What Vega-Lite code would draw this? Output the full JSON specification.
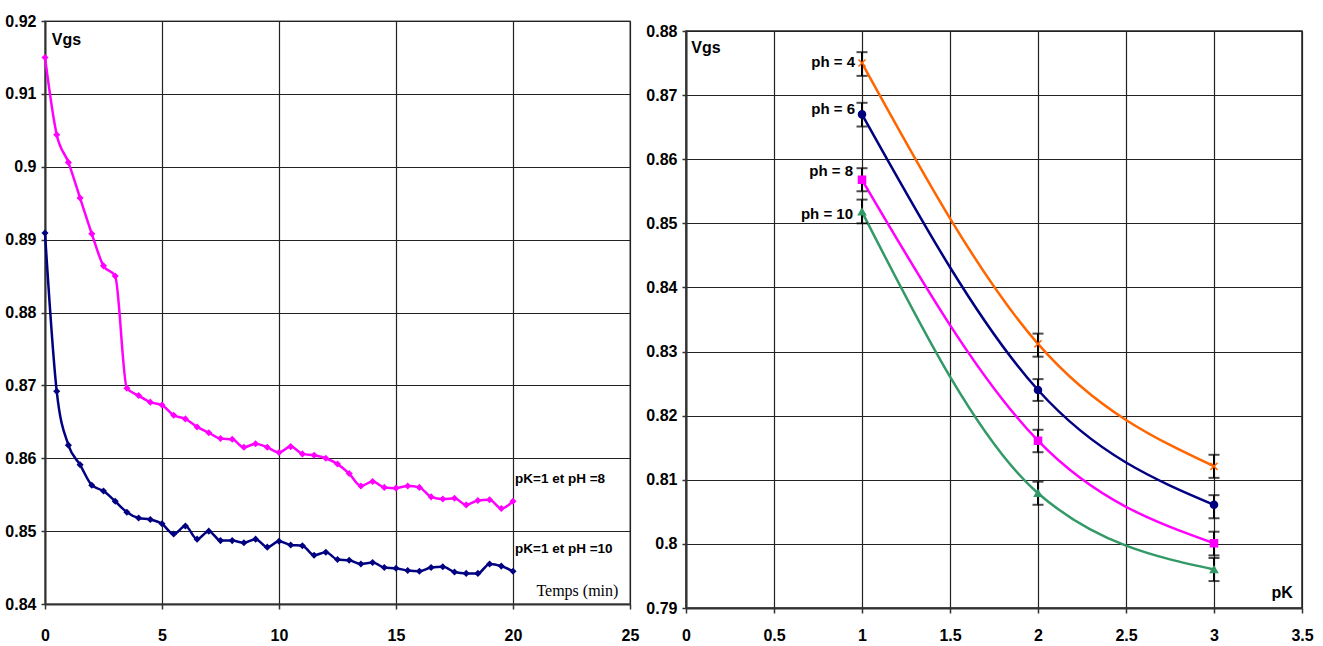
{
  "$schema": "https://vega.github.io/schema/vega-lite/v6.json",
  "background": "white",
  "padding": {"left": 4, "top": 12, "right": 5, "bottom": 0},
  "spacing": 5,
  "align": "none",
  "resolve": {"scale": {"color": "independent", "stroke": "independent", "shape": "independent"}},
  "datasets": {
    "left": [
      {"t": 0, "v": 0.915, "s": "pK=1 et pH =8"},
      {"t": 0.5, "v": 0.9044, "s": "pK=1 et pH =8"},
      {"t": 1, "v": 0.9006, "s": "pK=1 et pH =8"},
      {"t": 1.5, "v": 0.8957, "s": "pK=1 et pH =8"},
      {"t": 2, "v": 0.8908, "s": "pK=1 et pH =8"},
      {"t": 2.5, "v": 0.8864, "s": "pK=1 et pH =8"},
      {"t": 3, "v": 0.885, "s": "pK=1 et pH =8"},
      {"t": 3.5, "v": 0.8696, "s": "pK=1 et pH =8"},
      {"t": 4, "v": 0.8686, "s": "pK=1 et pH =8"},
      {"t": 4.5, "v": 0.8677, "s": "pK=1 et pH =8"},
      {"t": 5, "v": 0.8673, "s": "pK=1 et pH =8"},
      {"t": 5.5, "v": 0.8659, "s": "pK=1 et pH =8"},
      {"t": 6, "v": 0.8654, "s": "pK=1 et pH =8"},
      {"t": 6.5, "v": 0.8643, "s": "pK=1 et pH =8"},
      {"t": 7, "v": 0.8635, "s": "pK=1 et pH =8"},
      {"t": 7.5, "v": 0.8627, "s": "pK=1 et pH =8"},
      {"t": 8, "v": 0.8626, "s": "pK=1 et pH =8"},
      {"t": 8.5, "v": 0.8615, "s": "pK=1 et pH =8"},
      {"t": 9, "v": 0.862, "s": "pK=1 et pH =8"},
      {"t": 9.5, "v": 0.8615, "s": "pK=1 et pH =8"},
      {"t": 10, "v": 0.8608, "s": "pK=1 et pH =8"},
      {"t": 10.5, "v": 0.8616, "s": "pK=1 et pH =8"},
      {"t": 11, "v": 0.8606, "s": "pK=1 et pH =8"},
      {"t": 11.5, "v": 0.8604, "s": "pK=1 et pH =8"},
      {"t": 12, "v": 0.86, "s": "pK=1 et pH =8"},
      {"t": 12.5, "v": 0.8592, "s": "pK=1 et pH =8"},
      {"t": 13, "v": 0.8579, "s": "pK=1 et pH =8"},
      {"t": 13.5, "v": 0.8562, "s": "pK=1 et pH =8"},
      {"t": 14, "v": 0.8568, "s": "pK=1 et pH =8"},
      {"t": 14.5, "v": 0.856, "s": "pK=1 et pH =8"},
      {"t": 15, "v": 0.8559, "s": "pK=1 et pH =8"},
      {"t": 15.5, "v": 0.8562, "s": "pK=1 et pH =8"},
      {"t": 16, "v": 0.856, "s": "pK=1 et pH =8"},
      {"t": 16.5, "v": 0.8547, "s": "pK=1 et pH =8"},
      {"t": 17, "v": 0.8544, "s": "pK=1 et pH =8"},
      {"t": 17.5, "v": 0.8545, "s": "pK=1 et pH =8"},
      {"t": 18, "v": 0.8536, "s": "pK=1 et pH =8"},
      {"t": 18.5, "v": 0.8542, "s": "pK=1 et pH =8"},
      {"t": 19, "v": 0.8543, "s": "pK=1 et pH =8"},
      {"t": 19.5, "v": 0.8531, "s": "pK=1 et pH =8"},
      {"t": 20, "v": 0.8541, "s": "pK=1 et pH =8"},
      {"t": 0, "v": 0.8909, "s": "pK=1 et pH =10"},
      {"t": 0.5, "v": 0.8692, "s": "pK=1 et pH =10"},
      {"t": 1, "v": 0.8618, "s": "pK=1 et pH =10"},
      {"t": 1.5, "v": 0.8591, "s": "pK=1 et pH =10"},
      {"t": 2, "v": 0.8563, "s": "pK=1 et pH =10"},
      {"t": 2.5, "v": 0.8555, "s": "pK=1 et pH =10"},
      {"t": 3, "v": 0.8541, "s": "pK=1 et pH =10"},
      {"t": 3.5, "v": 0.8526, "s": "pK=1 et pH =10"},
      {"t": 4, "v": 0.8518, "s": "pK=1 et pH =10"},
      {"t": 4.5, "v": 0.8516, "s": "pK=1 et pH =10"},
      {"t": 5, "v": 0.851, "s": "pK=1 et pH =10"},
      {"t": 5.5, "v": 0.8496, "s": "pK=1 et pH =10"},
      {"t": 6, "v": 0.8507, "s": "pK=1 et pH =10"},
      {"t": 6.5, "v": 0.8489, "s": "pK=1 et pH =10"},
      {"t": 7, "v": 0.85, "s": "pK=1 et pH =10"},
      {"t": 7.5, "v": 0.8487, "s": "pK=1 et pH =10"},
      {"t": 8, "v": 0.8487, "s": "pK=1 et pH =10"},
      {"t": 8.5, "v": 0.8484, "s": "pK=1 et pH =10"},
      {"t": 9, "v": 0.8489, "s": "pK=1 et pH =10"},
      {"t": 9.5, "v": 0.8478, "s": "pK=1 et pH =10"},
      {"t": 10, "v": 0.8486, "s": "pK=1 et pH =10"},
      {"t": 10.5, "v": 0.8481, "s": "pK=1 et pH =10"},
      {"t": 11, "v": 0.848, "s": "pK=1 et pH =10"},
      {"t": 11.5, "v": 0.8467, "s": "pK=1 et pH =10"},
      {"t": 12, "v": 0.8471, "s": "pK=1 et pH =10"},
      {"t": 12.5, "v": 0.8461, "s": "pK=1 et pH =10"},
      {"t": 13, "v": 0.846, "s": "pK=1 et pH =10"},
      {"t": 13.5, "v": 0.8455, "s": "pK=1 et pH =10"},
      {"t": 14, "v": 0.8457, "s": "pK=1 et pH =10"},
      {"t": 14.5, "v": 0.845, "s": "pK=1 et pH =10"},
      {"t": 15, "v": 0.8449, "s": "pK=1 et pH =10"},
      {"t": 15.5, "v": 0.8446, "s": "pK=1 et pH =10"},
      {"t": 16, "v": 0.8445, "s": "pK=1 et pH =10"},
      {"t": 16.5, "v": 0.845, "s": "pK=1 et pH =10"},
      {"t": 17, "v": 0.8451, "s": "pK=1 et pH =10"},
      {"t": 17.5, "v": 0.8444, "s": "pK=1 et pH =10"},
      {"t": 18, "v": 0.8442, "s": "pK=1 et pH =10"},
      {"t": 18.5, "v": 0.8442, "s": "pK=1 et pH =10"},
      {"t": 19, "v": 0.8455, "s": "pK=1 et pH =10"},
      {"t": 19.5, "v": 0.8452, "s": "pK=1 et pH =10"},
      {"t": 20, "v": 0.8445, "s": "pK=1 et pH =10"}
    ],
    "right": [
      {"pK": 1, "v": 0.875, "lo": 0.873, "hi": 0.8767, "ph": "ph = 4"},
      {"pK": 2, "v": 0.8312, "lo": 0.8292, "hi": 0.8328, "ph": "ph = 4"},
      {"pK": 3, "v": 0.8121, "lo": 0.8103, "hi": 0.8139, "ph": "ph = 4"},
      {"pK": 1, "v": 0.867, "lo": 0.8651, "hi": 0.8688, "ph": "ph = 6"},
      {"pK": 2, "v": 0.824, "lo": 0.8223, "hi": 0.8257, "ph": "ph = 6"},
      {"pK": 3, "v": 0.8061, "lo": 0.804, "hi": 0.8076, "ph": "ph = 6"},
      {"pK": 1, "v": 0.8568, "lo": 0.855, "hi": 0.8586, "ph": "ph = 8"},
      {"pK": 2, "v": 0.8161, "lo": 0.8143, "hi": 0.8178, "ph": "ph = 8"},
      {"pK": 3, "v": 0.8001, "lo": 0.7982, "hi": 0.8019, "ph": "ph = 8"},
      {"pK": 1, "v": 0.8518, "lo": 0.85, "hi": 0.8537, "ph": "ph = 10"},
      {"pK": 2, "v": 0.8079, "lo": 0.8061, "hi": 0.8097, "ph": "ph = 10"},
      {"pK": 3, "v": 0.796, "lo": 0.7942, "hi": 0.7978, "ph": "ph = 10"}
    ]
  },
  "hconcat": [
    {
      "width": 585,
      "height": 583,
      "view": {"stroke": "#888", "strokeWidth": 1.5},
      "layer": [
        {
          "data": {"name": "left"},
          "mark": {"type": "line", "interpolate": "monotone", "strokeWidth": 2.5},
          "encoding": {
            "x": {"field": "t", "type": "quantitative", "scale": {"domain": [0, 25], "nice": false},
                  "axis": {"values": [0, 5, 10, 15, 20, 25], "title": null, "labelPadding": 18, "labelFlush": false, "format": "~g"}},
            "y": {"field": "v", "type": "quantitative", "scale": {"domain": [0.84, 0.92], "nice": false, "zero": false},
                  "axis": {"values": [0.84, 0.85, 0.86, 0.87, 0.88, 0.89, 0.9, 0.91, 0.92], "title": null, "format": "~g", "tickSize": 4, "labelPadding": 5}},
            "color": {"field": "s", "type": "nominal", "scale": {"domain": ["pK=1 et pH =8", "pK=1 et pH =10"], "range": ["#FF00FF", "#000080"]}, "legend": null}
          }
        },
        {
          "data": {"name": "left"},
          "mark": {"type": "point", "shape": "diamond", "filled": true, "size": 50, "opacity": 1},
          "encoding": {
            "x": {"field": "t", "type": "quantitative"},
            "y": {"field": "v", "type": "quantitative"},
            "color": {"field": "s", "type": "nominal", "legend": null}
          }
        },
        {
          "data": {"name": "left"},
          "transform": [{"filter": "datum.t == 20"}],
          "mark": {"type": "text", "align": "left", "baseline": "middle", "dx": 2, "dy": -22, "fontWeight": "bold", "fontSize": 13.5, "color": "#000"},
          "encoding": {
            "x": {"field": "t", "type": "quantitative"},
            "y": {"field": "v", "type": "quantitative"},
            "text": {"field": "s"}
          }
        },
        {
          "data": {"values": [{}]},
          "mark": {"type": "text", "text": "Vgs", "align": "left", "baseline": "middle", "fontWeight": "bold", "fontSize": 16, "color": "#000"},
          "encoding": {
            "x": {"datum": 0.29, "type": "quantitative"},
            "y": {"datum": 0.9174, "type": "quantitative"}
          }
        },
        {
          "data": {"values": [{}]},
          "mark": {"type": "text", "text": "Temps (min)", "align": "left", "baseline": "middle", "font": "Liberation Serif", "fontSize": 16, "color": "#000"},
          "encoding": {
            "x": {"datum": 21.0, "type": "quantitative"},
            "y": {"datum": 0.8418, "type": "quantitative"}
          }
        }
      ]
    },
    {
      "spacing": 0,
      "align": "none",
      "vconcat": [
        {
          "width": 616,
          "height": 1,
          "view": {"stroke": null},
          "data": {"values": [{}]},
          "mark": {"type": "text", "text": "", "fontSize": 1},
          "encoding": {}
        },
        {
          "width": 616,
          "height": 577,
          "view": {"stroke": "#222", "strokeWidth": 1.5},
          "layer": [
            {
              "data": {"name": "right"},
              "mark": {"type": "line", "interpolate": "monotone", "strokeWidth": 2.5},
              "encoding": {
                "x": {"field": "pK", "type": "quantitative", "scale": {"domain": [0, 3.5], "nice": false},
                      "axis": {"values": [0, 0.5, 1, 1.5, 2, 2.5, 3, 3.5], "title": null, "labelPadding": 14, "labelFlush": false, "format": "~g"}},
                "y": {"field": "v", "type": "quantitative", "scale": {"domain": [0.79, 0.88], "nice": false, "zero": false},
                      "axis": {"values": [0.79, 0.8, 0.81, 0.82, 0.83, 0.84, 0.85, 0.86, 0.87, 0.88], "title": null, "format": "~g", "tickSize": 4, "labelPadding": 5}},
                "color": {"field": "ph", "type": "nominal", "scale": {"domain": ["ph = 4", "ph = 6", "ph = 8", "ph = 10"], "range": ["#FF6600", "#000080", "#FF00FF", "#339966"]}, "legend": null}
              }
            },
            {
              "data": {"name": "right"},
              "mark": {"type": "rule", "color": "#000", "strokeWidth": 2},
              "encoding": {
                "x": {"field": "pK", "type": "quantitative"},
                "y": {"field": "lo", "type": "quantitative"},
                "y2": {"field": "hi"}
              }
            },
            {
              "data": {"name": "right"},
              "mark": {"type": "tick", "orient": "horizontal", "size": 11, "thickness": 2, "color": "#000"},
              "encoding": {
                "x": {"field": "pK", "type": "quantitative"},
                "y": {"field": "lo", "type": "quantitative"}
              }
            },
            {
              "data": {"name": "right"},
              "mark": {"type": "tick", "orient": "horizontal", "size": 11, "thickness": 2, "color": "#000"},
              "encoding": {
                "x": {"field": "pK", "type": "quantitative"},
                "y": {"field": "hi", "type": "quantitative"}
              }
            },
            {
              "data": {"name": "right"},
              "mark": {"type": "point", "filled": true, "size": 50, "opacity": 1, "strokeWidth": 1.5},
              "encoding": {
                "x": {"field": "pK", "type": "quantitative"},
                "y": {"field": "v", "type": "quantitative"},
                "color": {"field": "ph", "type": "nominal", "legend": null},
                "stroke": {"field": "ph", "type": "nominal", "scale": {"domain": ["ph = 4", "ph = 6", "ph = 8", "ph = 10"], "range": ["#FF6600", "#000080", "#FF00FF", "#339966"]}, "legend": null},
                "shape": {"field": "ph", "type": "nominal", "scale": {"domain": ["ph = 4", "ph = 6", "ph = 8", "ph = 10"], "range": ["M-1,-1L1,1M-1,1L1,-1", "circle", "square", "triangle-up"]}, "legend": null}
              }
            },
            {
              "data": {"values": [{}]},
              "mark": {"type": "text", "text": "ph = 4", "align": "right", "baseline": "middle", "dx": -7, "fontWeight": "bold", "fontSize": 15, "color": "#000"},
              "encoding": {"x": {"datum": 1, "type": "quantitative"}, "y": {"datum": 0.8752, "type": "quantitative"}}
            },
            {
              "data": {"values": [{}]},
              "mark": {"type": "text", "text": "ph = 6", "align": "right", "baseline": "middle", "dx": -7, "fontWeight": "bold", "fontSize": 15, "color": "#000"},
              "encoding": {"x": {"datum": 1, "type": "quantitative"}, "y": {"datum": 0.8679, "type": "quantitative"}}
            },
            {
              "data": {"values": [{}]},
              "mark": {"type": "text", "text": "ph = 8", "align": "right", "baseline": "middle", "dx": -9, "fontWeight": "bold", "fontSize": 15, "color": "#000"},
              "encoding": {"x": {"datum": 1, "type": "quantitative"}, "y": {"datum": 0.8581, "type": "quantitative"}}
            },
            {
              "data": {"values": [{}]},
              "mark": {"type": "text", "text": "ph = 10", "align": "right", "baseline": "middle", "dx": -9, "fontWeight": "bold", "fontSize": 15, "color": "#000"},
              "encoding": {"x": {"datum": 1, "type": "quantitative"}, "y": {"datum": 0.8515, "type": "quantitative"}}
            },
            {
              "data": {"values": [{}]},
              "mark": {"type": "text", "text": "Vgs", "align": "left", "baseline": "middle", "fontWeight": "bold", "fontSize": 16, "color": "#000"},
              "encoding": {"x": {"datum": 0.03, "type": "quantitative"}, "y": {"datum": 0.8773, "type": "quantitative"}}
            },
            {
              "data": {"values": [{}]},
              "mark": {"type": "text", "text": "pK", "align": "left", "baseline": "middle", "fontWeight": "bold", "fontSize": 16, "color": "#000"},
              "encoding": {"x": {"datum": 3.326, "type": "quantitative"}, "y": {"datum": 0.7924, "type": "quantitative"}}
            }
          ]
        }
      ]
    }
  ],
  "config": {
    "font": "Liberation Sans, Arial, sans-serif",
    "axis": {
      "labelFont": "Liberation Sans, Arial, sans-serif",
      "labelFontWeight": "bold",
      "labelFontSize": 16,
      "labelColor": "#000",
      "grid": true,
      "gridColor": "#222",
      "gridWidth": 1.2,
      "gridOpacity": 1,
      "domainColor": "#333",
      "domainWidth": 2,
      "tickColor": "#333",
      "tickWidth": 1.5,
      "tickSize": 5
    }
  }
}
